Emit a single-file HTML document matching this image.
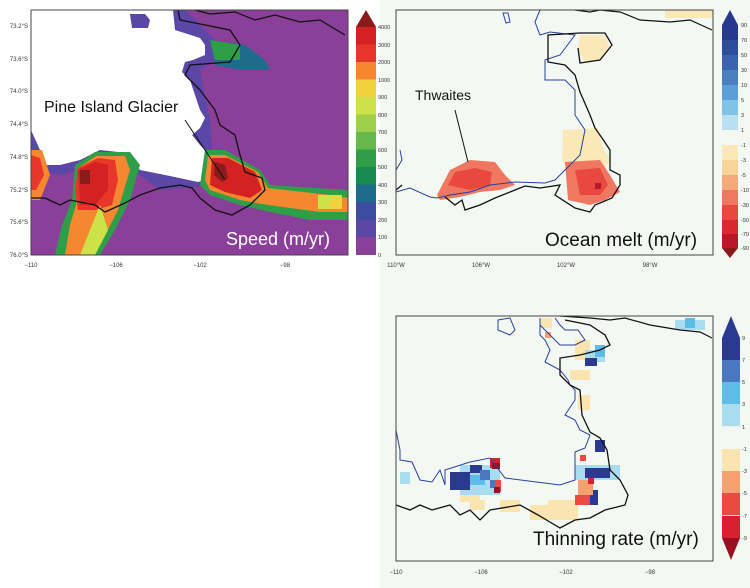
<!DOCTYPE html>
<html><head><meta charset="utf-8"><style>
html,body{margin:0;padding:0;background:#fff;}
svg{display:block;font-family:"Liberation Sans",sans-serif;}
</style></head><body>
<svg width="750" height="588" viewBox="0 0 750 588" xmlns="http://www.w3.org/2000/svg">
<rect x="0" y="0" width="750" height="588" fill="#fff"/>
<rect x="380" y="0" width="370" height="588" fill="#f4f8f3"/>

<!-- ========== PANEL 1 ========== -->
<g>
<rect x="31" y="10" width="317" height="245" fill="#8a3f98"/>
<polygon points="31,10 185,10 215,40 215,60 200,70 210,120 215,185 160,190 120,160 60,175 31,170" fill="#5a47a6"/>
<polygon points="210,40 245,45 265,60 270,70 240,70 215,65" fill="#1f6b8c"/>
<polygon points="210,40 240,45 240,60 215,60" fill="#2e9f48"/>
<polygon points="31,10 173,10 175,30 200,38 205,45 205,55 193,60 185,62 182,72 190,80 195,95 200,110 205,118 200,128 192,135 200,145 205,150 205,180 198,182 170,176 140,170 132,160 118,152 100,150 80,160 60,165 45,165 40,150 31,130" fill="#fff"/>
<polygon points="130,14 145,14 150,20 148,28 132,28" fill="#5a47a6"/>
<polygon points="31,150 42,150 50,175 40,200 31,200" fill="#f4872f"/>
<polygon points="31,155 40,158 44,175 36,190 31,190" fill="#e8372a"/>
<polygon points="75,165 95,152 130,152 140,165 130,200 115,230 100,255 55,255 62,225 72,200" fill="#2e9f48"/>
<polygon points="78,168 96,156 125,156 130,170 118,210 100,245 80,255 65,255 70,225 76,205" fill="#f4872f"/>
<polygon points="78,168 98,158 115,160 118,180 112,205 95,210 78,210 75,190" fill="#e8372a"/>
<polygon points="78,170 95,162 108,165 108,190 95,205 80,205" fill="#d42121"/>
<rect x="80" y="170" width="10" height="14" fill="#8b1a1a"/>
<polygon points="100,205 108,230 95,255 80,255" fill="#cde148"/>
<polygon points="205,150 225,150 260,170 270,185 348,190 348,220 310,220 270,212 240,205 210,195 200,185" fill="#2e9f48"/>
<polygon points="208,155 225,155 258,172 268,188 330,195 348,198 348,212 320,212 268,205 240,200 210,190 205,180" fill="#f4872f"/>
<polygon points="212,158 228,158 255,172 262,190 250,198 225,192 210,185" fill="#d42121"/>
<polygon points="215,162 225,165 228,178 222,182 214,175" fill="#8b1a1a"/>
<rect x="318" y="195" width="12" height="14" fill="#cde148"/>
<rect x="330" y="195" width="12" height="14" fill="#f2d13f"/>
<polyline points="31,198 45,198 60,205 70,200 95,205 105,212 125,203 140,195 160,188 180,185 192,188 200,198 215,210 232,215 250,205 265,190 262,178 245,172 240,155 235,135 220,125 215,110 200,90 185,75 190,65 230,62 240,45 230,30 180,20 178,10" fill="none" stroke="#111" stroke-width="1.3"/>
<polyline points="195,10 210,14 235,12 255,20 275,15 300,22 320,20 345,35" fill="none" stroke="#111" stroke-width="1.2"/>
<line x1="185" y1="120" x2="225" y2="180" stroke="#111" stroke-width="1"/>
<text x="44" y="112" font-size="16" fill="#111">Pine Island Glacier</text>
<text x="226" y="245" font-size="18" fill="#fff">Speed (m/yr)</text>
<rect x="31" y="10" width="317" height="245" fill="none" stroke="#444" stroke-width="1"/>
<g font-size="6" fill="#333" text-anchor="end">
<text x="28" y="28">73.2°S</text><text x="28" y="61">73.6°S</text><text x="28" y="93">74.0°S</text><text x="28" y="126">74.4°S</text><text x="28" y="159">74.8°S</text><text x="28" y="192">75.2°S</text><text x="28" y="224">75.6°S</text><text x="28" y="257">76.0°S</text>
</g>
<g font-size="6" fill="#333" text-anchor="middle">
<text x="31" y="267">−110</text><text x="116" y="267">−106</text><text x="200" y="267">−102</text><text x="285" y="267">−98</text>
</g>
<polygon points="356,27 366,10 376,27" fill="#8b1a1a"/>
<g>
<rect x="356" y="27" width="20" height="17.6" fill="#d42121"/>
<rect x="356" y="44.5" width="20" height="17.6" fill="#e8372a"/>
<rect x="356" y="62" width="20" height="17.6" fill="#f4872f"/>
<rect x="356" y="79.5" width="20" height="17.6" fill="#f2d13f"/>
<rect x="356" y="97" width="20" height="17.6" fill="#cde148"/>
<rect x="356" y="114.5" width="20" height="17.6" fill="#9fd04b"/>
<rect x="356" y="132" width="20" height="17.6" fill="#66b94a"/>
<rect x="356" y="149.5" width="20" height="17.6" fill="#2e9f48"/>
<rect x="356" y="167" width="20" height="17.6" fill="#198a50"/>
<rect x="356" y="184.5" width="20" height="17.6" fill="#1f6b8c"/>
<rect x="356" y="202" width="20" height="17.6" fill="#3d4ba0"/>
<rect x="356" y="219.5" width="20" height="17.6" fill="#5a47a6"/>
<rect x="356" y="237" width="20" height="18" fill="#8a3f98"/>
</g>
<g font-size="5.5" fill="#333">
<text x="378" y="29">4000</text><text x="378" y="47">3000</text><text x="378" y="64">2000</text><text x="378" y="82">1000</text><text x="378" y="99">900</text><text x="378" y="117">800</text><text x="378" y="134">700</text><text x="378" y="152">600</text><text x="378" y="169">500</text><text x="378" y="187">400</text><text x="378" y="204">300</text><text x="378" y="222">200</text><text x="378" y="239">100</text><text x="378" y="257">0</text>
</g>
</g>

<!-- ========== PANEL 2 ========== -->
<g>
<rect x="396" y="10" width="317" height="245" fill="#f4f8f3"/>
<polygon points="580,35 605,35 610,48 600,60 585,62 578,50" fill="#fbe8b8"/>
<rect x="665" y="10" width="48" height="8" fill="#fbe8b8"/>
<polygon points="563,130 598,128 602,145 610,160 600,175 585,180 570,175 562,160" fill="#fbe8b8"/>
<polygon points="565,162 600,160 610,175 620,192 605,200 590,205 568,200" fill="#f07860"/>
<polygon points="575,170 600,168 608,185 600,195 580,195" fill="#e84840"/>
<rect x="595" y="183" width="6" height="6" fill="#b81828"/>
<polygon points="437,195 450,170 470,160 495,162 505,175 515,185 500,190 480,192 460,197 440,200" fill="#f07860"/>
<polygon points="448,185 455,172 475,168 492,172 490,185 470,190" fill="#e84840"/>
<polyline points="396,192 410,188 430,197 437,198 450,195 470,192 490,185 515,182 545,183 555,180 565,170 580,155 585,130 575,115 575,90 565,80 545,80 545,60 560,55 575,35 550,32 540,35 535,22 540,10" fill="none" stroke="#2840a0" stroke-width="1"/>
<polyline points="396,170 402,160 400,150" fill="none" stroke="#2840a0" stroke-width="1"/>
<polyline points="396,190 402,185" fill="none" stroke="#111" stroke-width="1.3"/>
<polyline points="445,197 455,205 462,200 465,210 480,205 495,198 515,190 525,186 540,188 560,185 555,195 575,208 590,212 595,205 612,198 620,185 620,175 610,170 610,150 602,138 595,128 590,115 580,92 575,75 565,65 548,62 548,35 580,33 605,33 612,45 600,60 580,63 578,48" fill="none" stroke="#111" stroke-width="1.3"/>
<polyline points="575,10 590,12 600,10 620,12 640,20 670,22 690,20 712,30" fill="none" stroke="#111" stroke-width="1.2"/>
<polygon points="503,13 508,13 510,22 506,23" fill="none" stroke="#2840a0" stroke-width="1"/>
<line x1="455" y1="110" x2="468" y2="162" stroke="#111" stroke-width="1"/>
<text x="415" y="100" font-size="14" fill="#111">Thwaites</text>
<text x="545" y="246" font-size="19" fill="#111">Ocean melt (m/yr)</text>
<rect x="396" y="10" width="317" height="245" fill="none" stroke="#444" stroke-width="1"/>
<g font-size="6" fill="#333" text-anchor="middle">
<text x="396" y="267">110°W</text><text x="481" y="267">106°W</text><text x="566" y="267">102°W</text><text x="650" y="267">98°W</text>
</g>
<polygon points="722,25 730,10 738,25" fill="#253a8e"/>
<g>
<rect x="722" y="25" width="16" height="15" fill="#253a8e"/>
<rect x="722" y="40" width="16" height="15" fill="#2f4d9e"/>
<rect x="722" y="55" width="16" height="15" fill="#3a62ae"/>
<rect x="722" y="70" width="16" height="15" fill="#4a80c0"/>
<rect x="722" y="85" width="16" height="15" fill="#5aa0d6"/>
<rect x="722" y="100" width="16" height="15" fill="#7fc4e6"/>
<rect x="722" y="115" width="16" height="15" fill="#b8e0f0"/>
<rect x="722" y="130" width="16" height="15" fill="#f4f8f3"/>
<rect x="722" y="145" width="16" height="15" fill="#fbe8b8"/>
<rect x="722" y="160" width="16" height="15" fill="#f9d49a"/>
<rect x="722" y="175" width="16" height="15" fill="#f5a878"/>
<rect x="722" y="190" width="16" height="15" fill="#f07860"/>
<rect x="722" y="205" width="16" height="15" fill="#e84840"/>
<rect x="722" y="220" width="16" height="14" fill="#d82830"/>
<rect x="722" y="234" width="16" height="14" fill="#b81828"/>
</g>
<polygon points="722,248 730,258 738,248" fill="#8b1a1a"/>
<g font-size="5.5" fill="#333">
<text x="741" y="27">90</text><text x="741" y="42">70</text><text x="741" y="57">50</text><text x="741" y="72">30</text><text x="741" y="87">10</text><text x="741" y="102">5</text><text x="741" y="117">3</text><text x="741" y="132">1</text><text x="741" y="147">-1</text><text x="741" y="162">-3</text><text x="741" y="177">-5</text><text x="741" y="192">-10</text><text x="741" y="207">-30</text><text x="741" y="222">-50</text><text x="741" y="236">-70</text><text x="741" y="250">-90</text>
</g>
</g>

<!-- ========== PANEL 3 ========== -->
<g>
<rect x="396" y="316" width="317" height="245" fill="#f4f8f3"/>
<g fill="#fae4b0">
<rect x="540" y="318" width="12" height="10"/><rect x="575" y="340" width="15" height="20"/><rect x="570" y="370" width="20" height="10"/>
<rect x="578" y="395" width="12" height="15"/><rect x="548" y="500" width="30" height="20"/><rect x="530" y="505" width="20" height="15"/>
<rect x="500" y="500" width="20" height="12"/><rect x="470" y="500" width="15" height="10"/><rect x="460" y="490" width="20" height="12"/>
</g>
<g fill="#a8dcee">
<rect x="400" y="472" width="10" height="12"/><rect x="585" y="350" width="20" height="12"/><rect x="675" y="320" width="30" height="10"/>
<rect x="460" y="465" width="40" height="30"/><rect x="575" y="465" width="45" height="15"/>
</g>
<g fill="#5cbde8"><rect x="595" y="345" width="10" height="12"/><rect x="470" y="475" width="15" height="10"/><rect x="685" y="318" width="10" height="10"/></g>
<g fill="#2b3a90">
<rect x="450" y="472" width="20" height="18"/><rect x="585" y="358" width="12" height="8"/><rect x="595" y="440" width="10" height="12"/>
<rect x="585" y="468" width="25" height="10"/><rect x="590" y="490" width="8" height="15"/><rect x="470" y="465" width="12" height="8"/>
</g>
<g fill="#4a78c0"><rect x="480" y="470" width="10" height="10"/><rect x="490" y="480" width="8" height="8"/></g>
<g fill="#f6a070"><rect x="578" y="480" width="15" height="15"/><rect x="545" y="332" width="6" height="6"/></g>
<g fill="#ec4a40"><rect x="575" y="495" width="15" height="10"/><rect x="495" y="480" width="6" height="12"/><rect x="580" y="455" width="6" height="6"/></g>
<g fill="#d82030"><rect x="490" y="458" width="10" height="10"/><rect x="588" y="478" width="6" height="6"/></g>
<g fill="#9b1020"><rect x="492" y="463" width="8" height="6"/><rect x="494" y="487" width="6" height="6"/></g>
<polyline points="396,430 400,450 400,460 412,462 420,480 432,482 440,470 445,485 445,470 470,462 490,458 505,478 560,485 575,480 575,452 585,448 590,435 580,430 575,420 565,415 575,400 575,390 570,385 568,380 560,370 545,362 550,350 545,340 540,335 540,318" fill="none" stroke="#2840a0" stroke-width="1"/>
<polyline points="540,325 560,345 575,345 585,340 578,330 565,330 560,325 555,318" fill="none" stroke="#2840a0" stroke-width="1"/>
<polygon points="498,320 510,318 515,330 510,335 498,330" fill="none" stroke="#2840a0" stroke-width="1"/>
<polyline points="396,505 410,510 420,505 432,510 450,505 460,515 470,510 480,520 490,510 520,505 538,515 560,528 575,520 590,518 605,510 625,505 628,495 620,480 610,470 607,450 600,438 590,432 582,415 580,390 570,385 560,375 560,358 580,355 600,350 610,345 605,335 590,325 565,320" fill="none" stroke="#111" stroke-width="1.3"/>
<polyline points="560,316 590,318 610,320 625,318 650,325 680,330 700,332 712,338" fill="none" stroke="#111" stroke-width="1.2"/>
<text x="533" y="545" font-size="19" fill="#111">Thinning rate (m/yr)</text>
<rect x="396" y="316" width="317" height="245" fill="none" stroke="#444" stroke-width="1"/>
<g font-size="6" fill="#333" text-anchor="middle">
<text x="396" y="574">−110</text><text x="481" y="574">−106</text><text x="566" y="574">−102</text><text x="650" y="574">−98</text>
</g>
<polygon points="722,338 731,316 740,338" fill="#2b3a90"/>
<rect x="722" y="338" width="18" height="22.2" fill="#2b3a90"/>
<rect x="722" y="360" width="18" height="22.2" fill="#4a78c0"/>
<rect x="722" y="382" width="18" height="22.2" fill="#5cbde8"/>
<rect x="722" y="404" width="18" height="22.2" fill="#a8dcee"/>
<rect x="722" y="427" width="18" height="22.2" fill="#f4f8f3"/>
<rect x="722" y="449" width="18" height="22.2" fill="#fae4b0"/>
<rect x="722" y="471" width="18" height="22.2" fill="#f6a070"/>
<rect x="722" y="493" width="18" height="22.2" fill="#ec4a40"/>
<rect x="722" y="516" width="18" height="22" fill="#d82030"/>
<polygon points="722,538 731,560 740,538" fill="#9b1020"/>
<g font-size="5.5" fill="#333">
<text x="742" y="340">9</text><text x="742" y="362">7</text><text x="742" y="384">5</text><text x="742" y="406">3</text><text x="742" y="429">1</text><text x="742" y="451">-1</text><text x="742" y="473">-3</text><text x="742" y="495">-5</text><text x="742" y="518">-7</text><text x="742" y="540">-9</text>
</g>
</g>
</svg>
</body></html>
